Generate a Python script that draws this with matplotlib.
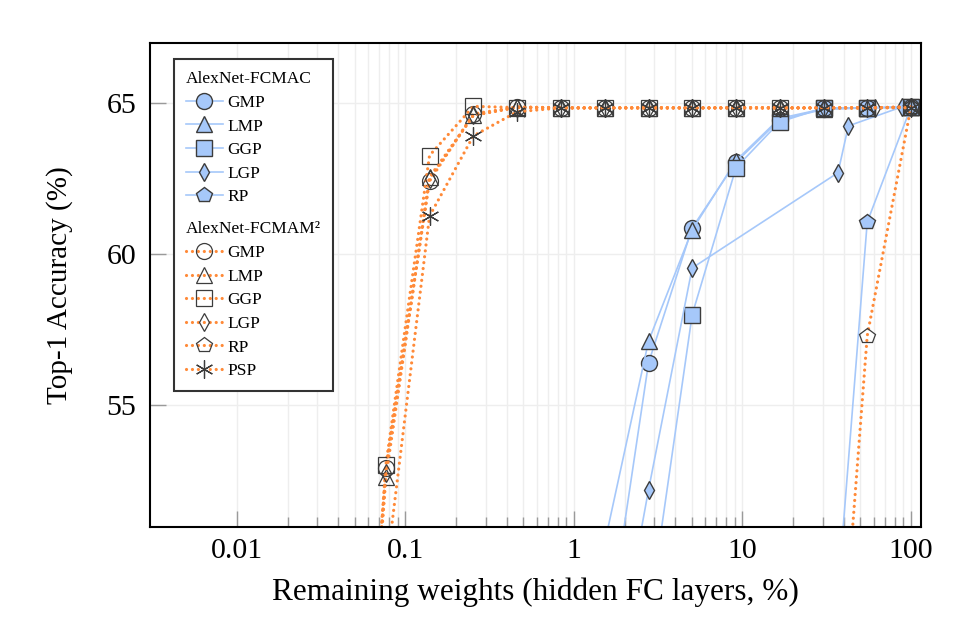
import numpy as np
import matplotlib.pyplot as plt
from matplotlib.lines import Line2D
from matplotlib.ticker import FixedLocator, FixedFormatter, NullFormatter

plt.rcParams['font.family'] = ['Liberation Serif', 'DejaVu Serif']

# remaining weights (%) used by most pruning runs
x_steps = [100, 55, 30.3, 16.6, 9.15, 5.03, 2.77, 1.52, 0.837, 0.46, 0.253, 0.139, 0.0766, 0.042]

# AlexNet-FCMAC (solid blue)
fcmac_gmp_x = [100, 55, 30.3, 16.6, 9.15, 5.03, 2.77, 1.52]
fcmac_gmp_y = [64.88, 64.85, 64.8, 64.45, 63.05, 60.87, 56.39, 46.6]
fcmac_lmp_x = [100, 55, 30.3, 16.6, 9.15, 5.03, 2.77, 1.52]
fcmac_lmp_y = [64.88, 64.85, 64.82, 64.5, 63.1, 60.8, 57.11, 50.4]
fcmac_ggp_x = [100, 55, 30.3, 16.6, 9.15, 5.03, 2.77]
fcmac_ggp_y = [64.88, 64.85, 64.85, 64.38, 62.86, 57.99, 47.9]
fcmac_lgp_x = [100, 88, 42.5, 36.9, 5.03, 2.77, 1.52]
fcmac_lgp_y = [64.88, 64.88, 64.25, 62.7, 59.54, 52.18, 44.2]
fcmac_rp_x = [100, 55, 30.3]
fcmac_rp_y = [64.88, 61.06, 42.7]

# AlexNet-FCMAM^2 (dotted orange)
fcmam_gmp_x = x_steps
fcmam_gmp_y = [64.88, 64.85, 64.85, 64.85, 64.85, 64.85, 64.85, 64.85, 64.85, 64.88, 64.65, 62.42, 52.9, 33.0]
fcmam_lmp_x = x_steps
fcmam_lmp_y = [64.88, 64.85, 64.85, 64.85, 64.85, 64.85, 64.85, 64.85, 64.85, 64.88, 64.6, 62.55, 52.6, 33.0]
fcmam_ggp_x = x_steps
fcmam_ggp_y = [64.88, 64.85, 64.85, 64.85, 64.85, 64.85, 64.85, 64.85, 64.85, 64.86, 64.9, 63.27, 53.02, 33.0]
fcmam_lgp_x = [100, 61, 30.3, 16.6, 9.15, 5.03, 2.77, 1.52, 0.837, 0.46, 0.253, 0.139, 0.0766, 0.042]
fcmam_lgp_y = [64.88, 64.85, 64.85, 64.85, 64.85, 64.85, 64.85, 64.85, 64.85, 64.86, 64.6, 62.5, 52.75, 33.0]
fcmam_rp_x = [100, 55, 30.3]
fcmam_rp_y = [64.88, 57.29, 38.3]
fcmam_psp_x = [100, 55, 30.3, 16.6, 9.15, 5.03, 2.77, 1.52, 0.837, 0.46, 0.253, 0.139, 0.0766]
fcmam_psp_y = [64.85, 64.85, 64.85, 64.85, 64.85, 64.85, 64.85, 64.85, 64.85, 64.72, 63.92, 61.26, 49.4]

x_ticks = [0.01, 0.1, 1, 10, 100]
x_tick_labels = ['0.01', '0.1', '1', '10', '100']
y_ticks = [55, 60, 65]

blue = '#a6c8fa'
orange = '#ff8a38'
edge = '#3c3c3c'

fig = plt.figure(figsize=(9.74, 6.3), dpi=100)
ax = fig.add_axes([0.154, 0.1635, 0.7916, 0.7682])

blue_kw = dict(color=blue, lw=1.2, mfc=blue, mec=edge, mew=1.0)
h_gmp, = ax.plot(fcmac_gmp_x, fcmac_gmp_y, marker='o', ms=11.5, label='GMP', **blue_kw)
h_lmp, = ax.plot(fcmac_lmp_x, fcmac_lmp_y, marker='^', ms=11, label='LMP', **blue_kw)
h_ggp, = ax.plot(fcmac_ggp_x, fcmac_ggp_y, marker='s', ms=11.5, label='GGP', **blue_kw)
h_lgp, = ax.plot(fcmac_lgp_x, fcmac_lgp_y, marker='d', ms=9, label='LGP', **blue_kw)
h_rp, = ax.plot(fcmac_rp_x, fcmac_rp_y, marker='p', ms=11.5, label='RP', **blue_kw)

orange_kw = dict(color=orange, lw=2.3, ls=(0, (0.01, 1.85)), dash_capstyle='round',
                 mfc='none', mec=edge, mew=0.9)
o_gmp, = ax.plot(fcmam_gmp_x, fcmam_gmp_y, marker='o', ms=11.5, label='GMP', **orange_kw)
o_lmp, = ax.plot(fcmam_lmp_x, fcmam_lmp_y, marker='^', ms=11, label='LMP', **orange_kw)
o_ggp, = ax.plot(fcmam_ggp_x, fcmam_ggp_y, marker='s', ms=11.5, label='GGP', **orange_kw)
o_lgp, = ax.plot(fcmam_lgp_x, fcmam_lgp_y, marker='d', ms=9, label='LGP', **orange_kw)
o_rp, = ax.plot(fcmam_rp_x, fcmam_rp_y, marker='p', ms=11.5, label='RP', **orange_kw)
o_psp, = ax.plot(fcmam_psp_x, fcmam_psp_y, marker=(6, 2, 0), ms=13, label='PSP', **orange_kw)

ax.set_xscale('log')
ax.set_xlim(0.00305, 114.7)
ax.set_ylim(50.95, 67.0)

minor_ticks = [k * 10.0 ** e for e in range(-2, 2) for k in range(2, 10)]
ax.xaxis.set_major_locator(FixedLocator(x_ticks))
ax.xaxis.set_major_formatter(FixedFormatter(x_tick_labels))
ax.xaxis.set_minor_locator(FixedLocator(minor_ticks))
ax.xaxis.set_minor_formatter(NullFormatter())
ax.set_yticks(y_ticks)

ax.grid(True, which='both', axis='x', color='#eeeeee', lw=1.0, zorder=0)
ax.grid(True, which='major', axis='y', color='#eeeeee', lw=1.0, zorder=0)
ax.set_axisbelow(True)

ax.tick_params(axis='both', which='major', direction='in', length=11.5, width=1.0,
               color='#9a9a9a', labelsize=21.5)
ax.tick_params(axis='x', which='major', pad=8)
ax.tick_params(axis='y', which='major', pad=10)
ax.tick_params(axis='x', which='minor', direction='in', length=7, width=1.0, color='#9a9a9a')
for s in ax.spines.values():
    s.set_linewidth(1.5)
    s.set_color('black')

ax.set_xlabel('Remaining weights (hidden FC layers, %)', fontsize=22.5, labelpad=10)
ax.set_ylabel('Top-1 Accuracy (%)', fontsize=21, labelpad=24)

hdr1 = Line2D([], [], ls='none', marker=None)
spacer = Line2D([], [], ls='none', marker=None)
hdr2 = Line2D([], [], ls='none', marker=None)
handles = [hdr1, h_gmp, h_lmp, h_ggp, h_lgp, h_rp, spacer, hdr2,
           o_gmp, o_lmp, o_ggp, o_lgp, o_rp, o_psp]
labels = ['AlexNet-FCMAC', 'GMP', 'LMP', 'GGP', 'LGP', 'RP', ' ',
          'AlexNet-FCMAM\u00b2', 'GMP', 'LMP', 'GGP', 'LGP', 'RP', 'PSP']
leg = ax.legend(handles, labels, loc='upper left', bbox_to_anchor=(0.031, 0.967),
                borderaxespad=0, fontsize=12.5, fancybox=False, framealpha=1,
                edgecolor='#333333', handlelength=2.1, handletextpad=0.3,
                labelspacing=0.43, borderpad=0.7)
leg.get_frame().set_linewidth(1.5)
rows = leg._legend_handle_box.get_children()[0].get_children()
for i in (0, 6, 7):
    rows[i].get_children()[0].width = 0
    rows[i].sep = 0
rows[6].get_children()[0].height = 0
leg.get_texts()[6].set_fontsize(1)

fig.savefig('out.png', dpi=100)
